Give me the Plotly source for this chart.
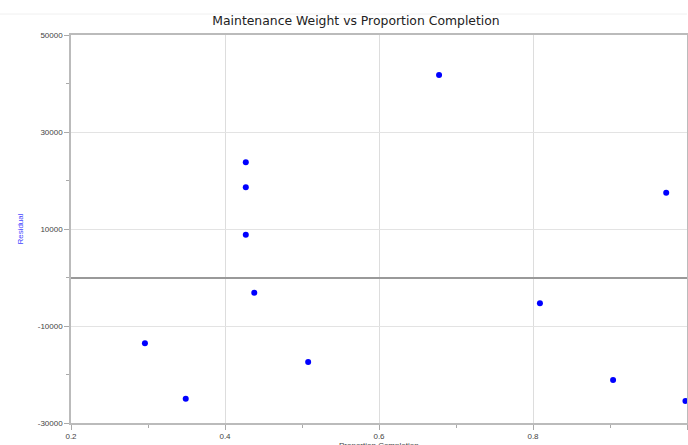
import plotly.graph_objects as go

proportion_completion = [0.296, 0.349, 0.427, 0.427, 0.427, 0.438, 0.508, 0.678, 0.809, 0.904, 0.973, 0.998]
residual = [-13570, -24990, 23750, 18600, 8820, -3130, -17420, 41750, -5320, -21130, 17480, -25460]

y_tick_vals = [-30000, -10000, 10000, 30000, 50000]
y_tick_text = ["-30000", "-10000", "10000", "30000", "50000"]
x_tick_vals = [0.2, 0.4, 0.6, 0.8, 1.0]
x_tick_text = ["0.2", "0.4", "0.6", "0.8", "1.0"]

W, H = 688, 445
L, T, B = 71, 35, 22
PH = H - T - B

fig = go.Figure()
fig.add_trace(go.Scatter(
    x=proportion_completion, y=residual, mode="markers",
    marker=dict(color="#0000ff", size=6, line=dict(width=0)),
    cliponaxis=False, hoverinfo="x+y",
))

fig.update_layout(
    width=W, height=H,
    margin=dict(l=L, r=1, t=T, b=B),
    paper_bgcolor="white", plot_bgcolor="white",
    showlegend=False,
    font=dict(family="Liberation Sans", size=8, color="#444"),
    title=dict(text="Maintenance Weight vs Proportion Completion",
               x=356/W, xref="container", xanchor="center",
               y=1 - 21/H, yanchor="middle",
               font=dict(family="DejaVu Sans", size=12.4, color="#222")),
    shapes=[dict(type="line", xref="paper", yref="paper", x0=-L/(W-L-1), x1=1.0,
                 y0=1 + 21/PH, y1=1 + 21/PH, line=dict(color="#f0f0f0", width=1))],
    annotations=[dict(text="Proportion Completion", xref="paper", yref="paper",
                      x=0.5, y=-(439 - (H - B)) / PH, xanchor="center", yanchor="top",
                      showarrow=False, font=dict(size=8, color="#444"))],
)

fig.update_xaxes(
    range=[0.2, 1.0], tickvals=x_tick_vals, ticktext=x_tick_text,
    showgrid=True, gridcolor="#dddddd", gridwidth=1,
    showline=True, linecolor="#bbbbbb", linewidth=1.5, mirror=True,
    ticks="outside", ticklen=5, tickcolor="#aaaaaa",
    minor=dict(tickvals=[0.3, 0.5, 0.7, 0.9], ticks="outside", ticklen=3, tickcolor="#aaaaaa", showgrid=False),
    zeroline=False,
    automargin=False,
)
fig.update_yaxes(
    range=[-30000, 50000], tickvals=y_tick_vals, ticktext=y_tick_text,
    showgrid=True, gridcolor="#e3e3e3", gridwidth=1,
    showline=True, linecolor="#bbbbbb", linewidth=1.5, mirror=True,
    ticks="outside", ticklen=5, tickcolor="#aaaaaa",
    minor=dict(tickvals=[-20000, 0, 20000, 40000], ticks="outside", ticklen=3, tickcolor="#aaaaaa", showgrid=False),
    zeroline=True, zerolinecolor="#999999", zerolinewidth=2,
    title=dict(text="Residual", standoff=13, font=dict(size=8, color="#4444ff")),
    automargin=False,
)

fig.write_html("out.html", config={"displayModeBar": False},
               post_script="document.body.style.margin='0';document.body.style.overflow='hidden';")
